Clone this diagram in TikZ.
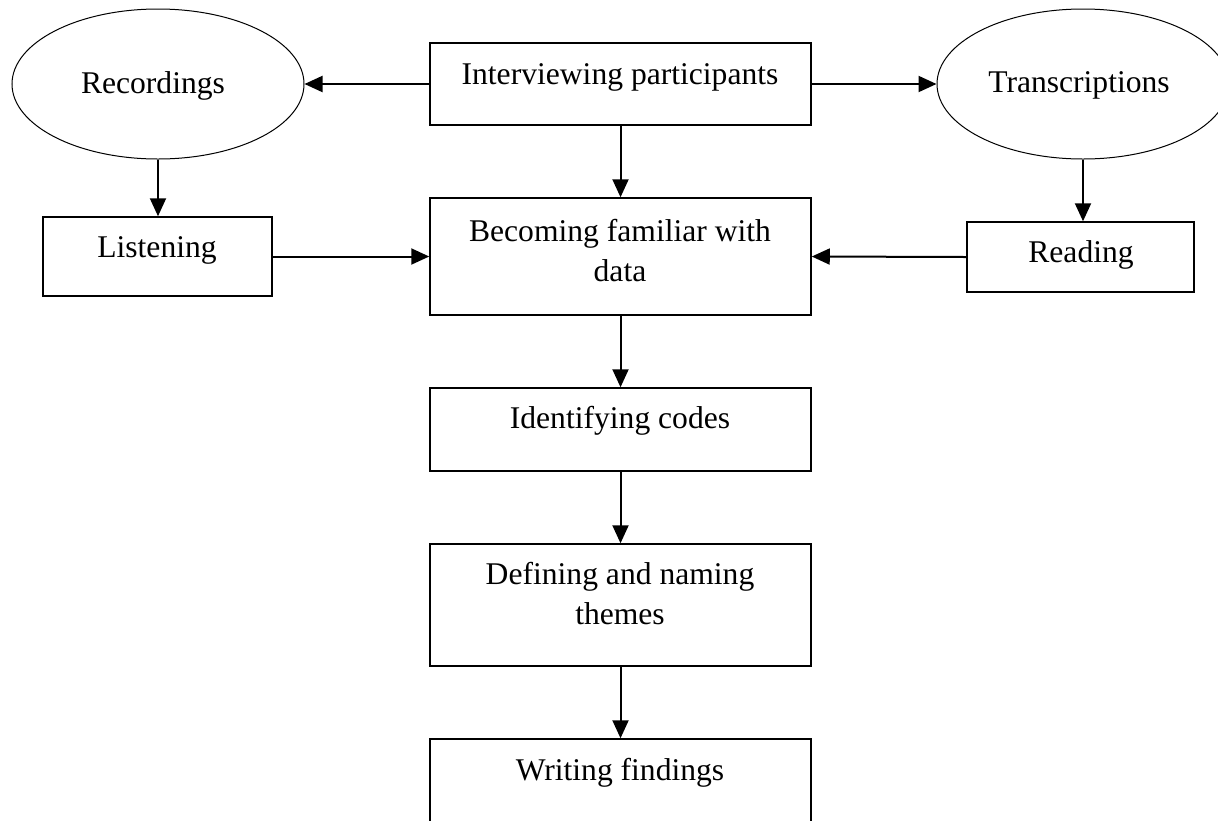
\documentclass[tikz,border=0pt]{standalone}
\usepackage{fontspec}
\setmainfont{Liberation Serif}
\usetikzlibrary{arrows.meta,shapes.geometric}
\begin{document}
\begin{tikzpicture}[x=0.5pt,y=-0.5pt,
  box/.style={draw, line width=0.75pt, rectangle, inner sep=0pt},
  oval/.style={draw, line width=0.5pt, ellipse, inner sep=0pt, minimum width=146pt, minimum height=75pt},
  txt/.style={font=\fontsize{15.8}{20}\selectfont, align=center, inner sep=0pt},
  arr/.style={-{Triangle[length=9pt,width=8pt]}, line width=1pt}]
\useasboundingbox (0,0) rectangle (1218,820);
\clip (0,0) rectangle (1218,820);
% shapes
\node[box, minimum width=190.5pt, minimum height=41pt] (int) at (620.5,84) {};
\node[box, minimum width=190.5pt, minimum height=58.5pt] (bec) at (620.5,256.5) {};
\node[box, minimum width=190.5pt, minimum height=41.5pt] (ide) at (620.5,429.5) {};
\node[box, minimum width=190.5pt, minimum height=61pt] (def) at (620.5,605) {};
\node[box, minimum width=190.5pt, minimum height=45.5pt] (wri) at (620.5,784.5) {};
\node[box, minimum width=114.5pt, minimum height=39.5pt] (lis) at (157.5,256.5) {};
\node[box, minimum width=113.5pt, minimum height=35pt] (rea) at (1080.5,257) {};
\node[oval] (rec) at (158,84) {};
\node[oval] (tra) at (1083,84) {};
% texts
\node[txt] (int-t) at (620,77) {Interviewing participants};
\node[txt] (bec-t) at (620,251) {Becoming familiar with\\data};
\node[txt] (ide-t) at (620,421) {Identifying codes};
\node[txt] (def-t) at (620,594) {Defining and naming\\themes};
\node[txt] (wri-t) at (620,773) {Writing findings};
\node[txt] (lis-t) at (157,250) {Listening};
\node[txt] (rea-t) at (1081,255) {Reading};
\node[txt] (rec-t) at (153,86) {Recordings};
\node[txt] (tra-t) at (1079,85) {Transcriptions};
% connectors
\draw[arr] (int.west) -- (rec.east);
\draw[arr] (int.east) -- (tra.west);
\draw[arr] (int.south) -- (bec.north);
\draw[arr] (rec.south) -- (rec.south |- lis.north);
\draw[arr] (tra.south) -- (tra.south |- rea.north);
\draw[arr] (lis.east) -- (bec.west);
\draw[arr] (rea.west) -- (bec.east);
\draw[arr] (bec.south) -- (ide.north);
\draw[arr] (ide.south) -- (def.north);
\draw[arr] (def.south) -- (wri.north);
\end{tikzpicture}
\end{document}
